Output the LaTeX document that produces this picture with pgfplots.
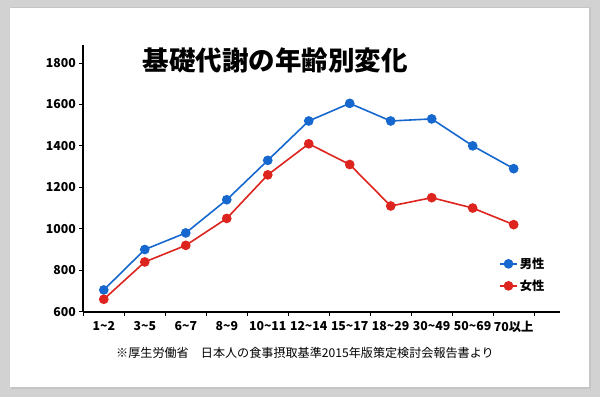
\documentclass[border=0pt]{standalone}
\usepackage{fontspec}
\setmainfont{Noto Sans CJK JP}
\usepackage{pgfplots}
\pgfplotsset{compat=1.18}
\definecolor{bgray}{RGB}{210,210,210}
\definecolor{mblue}{RGB}{22,104,206}
\definecolor{mred}{RGB}{222,36,30}
\begin{document}
\begin{tikzpicture}[x=1pt,y=1pt]
\fill[bgray] (0,0) rectangle (600,397);
\fill[gray!55,opacity=0.5] (11,8) rectangle (591,390);
\fill[white] (9.5,10) rectangle (589,389);
\path[use as bounding box] (0,0) rectangle (600,397);
\begin{axis}[
  at={(83.3pt,85.3pt)}, anchor=south west,
  scale only axis, width=476.7pt, height=267pt,
  xmin=-0.5, xmax=11.13, ymin=600, ymax=1888,
  axis lines=left, axis line style={-, line width=1.8pt},
  xtick={-0.5,0.5,...,10.5},
  x tick label as interval,
  xticklabels={1\textasciitilde 2,3\textasciitilde 5,6\textasciitilde 7,8\textasciitilde 9,10\textasciitilde 11,12\textasciitilde 14,15\textasciitilde 17,18\textasciitilde 29,30\textasciitilde 49,50\textasciitilde 69,70以上},
  ytick={600,800,...,1800},
  tick align=outside, major tick length=4pt,
  tick style={black, line width=0.8pt},
  /pgf/number format/assume math mode=true,
  /pgf/number format/1000 sep={},
  ticklabel style={font=\fontsize{12.3}{13}\selectfont\bfseries},
  xticklabel style={yshift=-2pt},
  legend cell align=left,
  legend style={draw=none, fill=none, at={(0.872,0.21)}, anchor=north west,
    font=\fontsize{12.3}{13}\selectfont\bfseries, row sep=6pt, inner sep=0pt},
]
\addplot[mblue, line width=1.6pt, mark=*, mark size=4pt, mark options={solid, fill=mblue}]
 coordinates {(0,705)(1,900)(2,980)(3,1140)(4,1330)(5,1520)(6,1605)(7,1520)(8,1530)(9,1400)(10,1290)};
\addlegendentry{男性}
\addplot[mred, line width=1.6pt, mark=*, mark size=4pt, mark options={solid, fill=mred}]
 coordinates {(0,660)(1,840)(2,920)(3,1050)(4,1260)(5,1410)(6,1310)(7,1110)(8,1150)(9,1100)(10,1020)};
\addlegendentry{女性}
\end{axis}
\node[font=\fontsize{26.5}{28}\selectfont\bfseries] at (275,397-60) {基礎代謝の年齢別変化};
\node[font=\fontsize{12.1}{13}\selectfont] at (305,397-353) {※厚生労働省　日本人の食事摂取基準2015年版策定検討会報告書より};
\end{tikzpicture}
\end{document}
